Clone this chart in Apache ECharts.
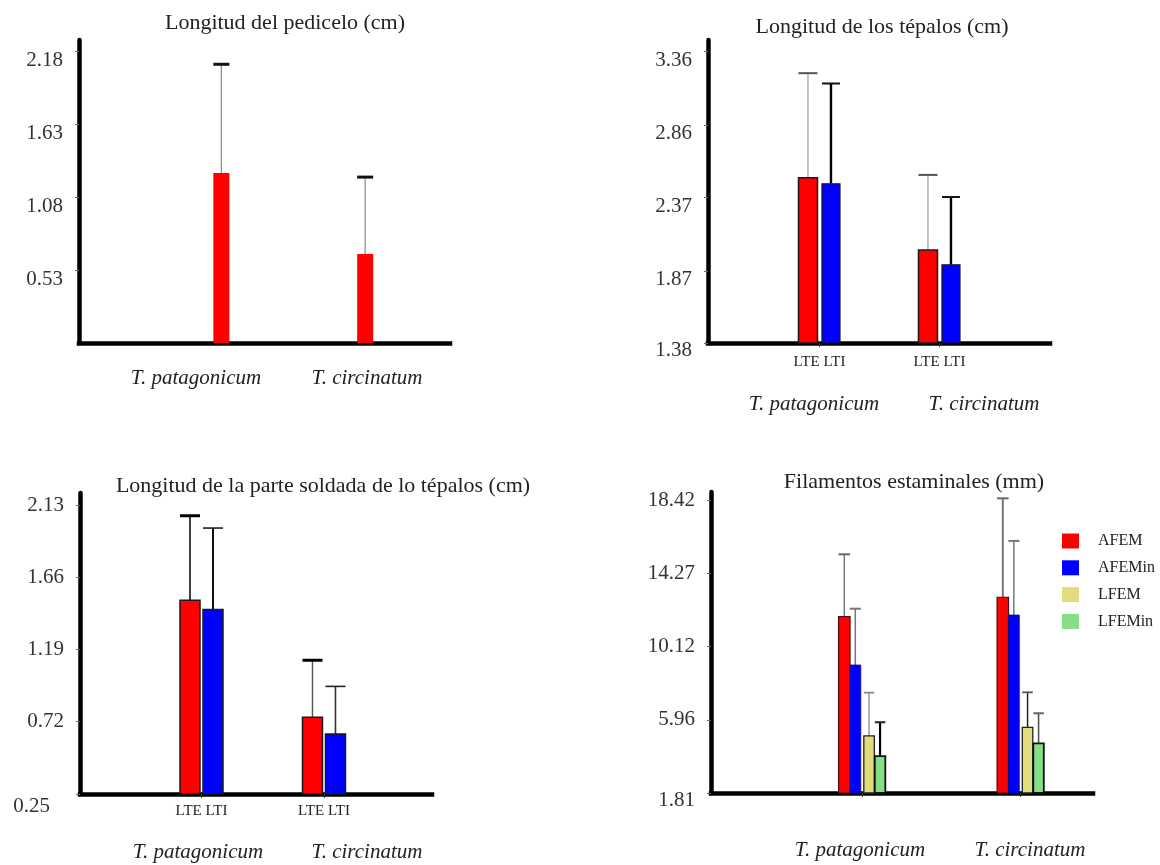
<!DOCTYPE html>
<html>
<head>
<meta charset="utf-8">
<script src="https://cdn.jsdelivr.net/npm/echarts@6/dist/echarts.min.js"></script>
<style>
  html, body { margin: 0; padding: 0; background: #ffffff; }
  #chart { width: 1160px; height: 865px; }
</style>
</head>
<body>
<div id="chart"></div>
<script>
// Species on the horizontal axis of every panel
const species = ['T. patagonicum', 'T. circinatum'];
const pairLabel = 'LTE LTI';

// Longitud del pedicelo (cm): mean and standard deviation
const pedicelMean = [1.26, 0.65];
const pedicelSd = [0.82, 0.58];
const pedicelTicks = [0.53, 1.08, 1.63, 2.18];

// Longitud de los tépalos (cm)
const tepalLTEMean = [2.50, 2.01];
const tepalLTESd = [0.71, 0.51];
const tepalLTIMean = [2.46, 1.91];
const tepalLTISd = [0.68, 0.46];
const tepalTicks = [1.38, 1.87, 2.37, 2.86, 3.36];

// Longitud de la parte soldada de los tépalos (cm)
const fusedLTEMean = [1.51, 0.75];
const fusedLTESd = [0.55, 0.37];
const fusedLTIMean = [1.45, 0.64];
const fusedLTISd = [0.53, 0.31];
const fusedTicks = [0.25, 0.72, 1.19, 1.66, 2.13];

// Filamentos estaminales (mm)
const filamentNames = ['AFEM', 'AFEMin', 'LFEM', 'LFEMin'];
const afemMean = [11.83, 12.93];
const afemSd = [3.54, 5.62];
const afeminMean = [9.08, 11.92];
const afeminSd = [3.20, 4.21];
const lfemMean = [5.05, 5.54];
const lfemSd = [2.46, 1.99];
const lfeminMean = [3.91, 4.63];
const lfeminSd = [1.92, 1.71];
const filamentTicks = [1.81, 5.96, 10.12, 14.27, 18.42];

const titles = [
  'Longitud del pedicelo (cm)',
  'Longitud de los tépalos (cm)',
  'Longitud de la parte soldada de lo tépalos (cm)',
  'Filamentos estaminales (mm)'
];

const FONT = '"Liberation Serif", "DejaVu Serif", serif';
const RED = '#ff0000';
const BLUE = '#0000ff';
const KHAKI = '#e2dd7c';
const GREEN = '#86de86';

// one row per species: [position on the axis, mean, sd]
function rows(mean, sd) {
  return species.map((s, i) => [i + 1, mean[i], sd[i]]);
}

function pick(v, i) { return Array.isArray(v) ? v[i] : v; }

// Bar from the axis floor up to the mean, with an upper error whisker and cap
function barWithError(st) {
  return function (params, api) {
    const i = params.dataIndex;
    const xv = api.value(0);
    const mean = api.value(1);
    const sd = api.value(2);
    const top = api.coord([xv, mean]);
    const hi = api.coord([xv, mean + sd]);
    const cs = params.coordSys;
    const floor = cs.y + cs.height;
    const cx = top[0] + st.offset;
    const w = st.width;
    const half = w / 2;
    return {
      type: 'group',
      children: [
        {
          type: 'line',
          shape: { x1: cx, y1: top[1], x2: cx, y2: hi[1] },
          style: { stroke: pick(st.whisker, i), lineWidth: pick(st.whiskerWidth, i) }
        },
        {
          type: 'line',
          shape: { x1: cx - half, y1: hi[1], x2: cx + half, y2: hi[1] },
          style: { stroke: pick(st.cap, i), lineWidth: pick(st.capWidth, i) }
        },
        {
          type: 'rect',
          shape: { x: cx - half, y: top[1], width: w, height: floor - top[1] },
          style: {
            fill: st.fill,
            stroke: st.border || null,
            lineWidth: st.border ? st.borderWidth : 0
          }
        }
      ]
    };
  };
}

function customSeries(name, idx, data, st) {
  return {
    type: 'custom',
    name: name,
    xAxisIndex: idx,
    yAxisIndex: idx,
    clip: false,
    itemStyle: { color: st.fill },
    encode: { x: 0, y: 1 },
    renderItem: barWithError(st),
    data: data
  };
}

const grids = [
  { left: 79, top: 40, width: 371, height: 303 },
  { left: 708, top: 40, width: 342, height: 303 },
  { left: 80, top: 493, width: 352, height: 301 },
  { left: 711, top: 492, width: 382, height: 301 }
];

const xRanges = [[0.01, 2.59], [0.071, 2.921], [0.008, 2.882], [0.047, 2.457]];

function makeX(idx, showPair, labelMargin) {
  return {
    type: 'value',
    gridIndex: idx,
    min: xRanges[idx][0],
    max: xRanges[idx][1],
    splitLine: { show: false },
    axisLine: { show: true, onZero: false, lineStyle: { color: '#000', width: 4.5, cap: 'square' } },
    axisTick: {
      show: idx !== 0,
      customValues: [1, 2],
      length: 4,
      lineStyle: { color: '#333', width: 1 }
    },
    axisLabel: {
      show: showPair,
      customValues: [1, 2],
      formatter: () => pairLabel,
      margin: labelMargin,
      fontFamily: FONT,
      fontSize: 15,
      color: '#222'
    }
  };
}

function makeY(idx, min, max, ticks, shiftAll, lowPad) {
  return {
    type: 'value',
    gridIndex: idx,
    min: min,
    max: max,
    splitLine: { show: false },
    axisLine: { show: true, onZero: false, lineStyle: { color: '#000', width: 4.5 } },
    axisTick: {
      show: true,
      customValues: ticks,
      length: 4,
      lineStyle: { color: '#666', width: 1 }
    },
    axisLabel: {
      customValues: ticks,
      margin: 16,
      fontFamily: FONT,
      fontSize: 21,
      color: '#333',
      formatter: function (v) {
        const s = v.toFixed(2);
        if (Math.abs(v - min) < 1e-6 && lowPad) return '{low|' + s + '}';
        return shiftAll ? '{down|' + s + '}' : s;
      },
      rich: {
        low: { fontFamily: FONT, fontSize: 21, color: '#333', padding: lowPad || [0, 0, 0, 0] },
        down: { fontFamily: FONT, fontSize: 21, color: '#333', padding: [18, 0, 0, 0] }
      }
    }
  };
}

const xAxes = [
  makeX(0, false, 14),
  makeX(1, true, 12),
  makeX(2, true, 10),
  makeX(3, false, 14)
];

const yAxes = [
  makeY(0, -0.02, 2.263, pedicelTicks, true, null),
  makeY(1, 1.38, 3.435, tepalTicks, true, [14, 0, 0, 0]),
  makeY(2, 0.25, 2.208, fusedTicks, false, [24, 14, 0, 0]),
  makeY(3, 1.81, 18.91, filamentTicks, false, [14, 0, 0, 0])
];

const series = [
  customSeries('Pedicelo', 0, rows(pedicelMean, pedicelSd), {
    offset: 0, width: 16, fill: RED,
    whisker: '#8a8a8a', whiskerWidth: 1.2, cap: '#111', capWidth: 3
  }),
  customSeries('LTE', 1, rows(tepalLTEMean, tepalLTESd), {
    offset: -11.5, width: 19, fill: RED, border: '#1a1a1a', borderWidth: 1.5,
    whisker: '#9a9a9a', whiskerWidth: 1.2, cap: '#555', capWidth: 2
  }),
  customSeries('LTI', 1, rows(tepalLTIMean, tepalLTISd), {
    offset: 11.5, width: 18, fill: BLUE, border: '#1a1a1a', borderWidth: 1.2,
    whisker: '#000', whiskerWidth: 2.4, cap: '#111', capWidth: 2
  }),
  customSeries('LTE ', 2, rows(fusedLTEMean, fusedLTESd), {
    offset: -11.5, width: 20, fill: RED, border: '#1a1a1a', borderWidth: 1.5,
    whisker: ['#111', '#555'], whiskerWidth: [1.6, 1.4], cap: '#000', capWidth: 3
  }),
  customSeries('LTI ', 2, rows(fusedLTIMean, fusedLTISd), {
    offset: 11.5, width: 20, fill: BLUE, border: '#1a1a1a', borderWidth: 1.5,
    whisker: ['#111', '#333'], whiskerWidth: [2, 1.6], cap: '#222', capWidth: 1.6
  }),
  customSeries('AFEM', 3, rows(afemMean, afemSd), {
    offset: -17.75, width: 11.5, fill: RED, border: '#4a1010', borderWidth: 1.2,
    whisker: '#777', whiskerWidth: [1.5, 2], cap: '#666', capWidth: 2
  }),
  customSeries('AFEMin', 3, rows(afeminMean, afeminSd), {
    offset: -6.75, width: 11, fill: BLUE, border: '#14146a', borderWidth: 0.8,
    whisker: '#777', whiskerWidth: 1.5, cap: '#777', capWidth: 2
  }),
  customSeries('LFEM', 3, rows(lfemMean, lfemSd), {
    offset: 7, width: 10.5, fill: KHAKI, border: '#222', borderWidth: 1.3,
    whisker: ['#999', '#222'], whiskerWidth: 1.5, cap: ['#888', '#555'], capWidth: 1.8
  }),
  customSeries('LFEMin', 3, rows(lfeminMean, lfeminSd), {
    offset: 18, width: 10.5, fill: GREEN, border: '#111', borderWidth: 1.8,
    whisker: ['#000', '#555'], whiskerWidth: [2.2, 1.6], cap: ['#222', '#666'], capWidth: 2
  })
];

function text(str, x, y, font, color) {
  return {
    type: 'text',
    x: x,
    y: y,
    silent: true,
    style: {
      text: str,
      font: font,
      fill: color || '#222',
      align: 'center',
      verticalAlign: 'middle',
      textAlign: 'center',
      textVerticalAlign: 'middle'
    }
  };
}

const titleFont = '22px ' + FONT;
const speciesFont = 'italic 21px ' + FONT;

const graphics = [
  text(titles[0], 285, 23, titleFont),
  text(titles[1], 882, 27, titleFont),
  text(titles[2], 323, 486, titleFont),
  text(titles[3], 914, 482, titleFont),
  text(species[0], 196, 378, speciesFont),
  text(species[1], 367, 378, speciesFont),
  text(species[0], 814, 404, speciesFont),
  text(species[1], 984, 404, speciesFont),
  text(species[0], 198, 852, speciesFont),
  text(species[1], 367, 852, speciesFont),
  text(species[0], 860, 850, speciesFont),
  text(species[1], 1030, 850, speciesFont)
];

const chart = echarts.init(document.getElementById('chart'), null, { renderer: 'canvas' });
chart.setOption({
  backgroundColor: '#ffffff',
  animation: false,
  grid: grids,
  xAxis: xAxes,
  yAxis: yAxes,
  legend: {
    data: filamentNames,
    orient: 'vertical',
    left: 1062,
    top: 533,
    padding: 0,
    icon: 'rect',
    itemWidth: 17,
    itemHeight: 15,
    itemGap: 10.8,
    selectedMode: false,
    textStyle: { fontFamily: FONT, fontSize: 16, color: '#222', padding: [0, 0, 0, 14] }
  },
  graphic: graphics,
  series: series
});
</script>
</body>
</html>
